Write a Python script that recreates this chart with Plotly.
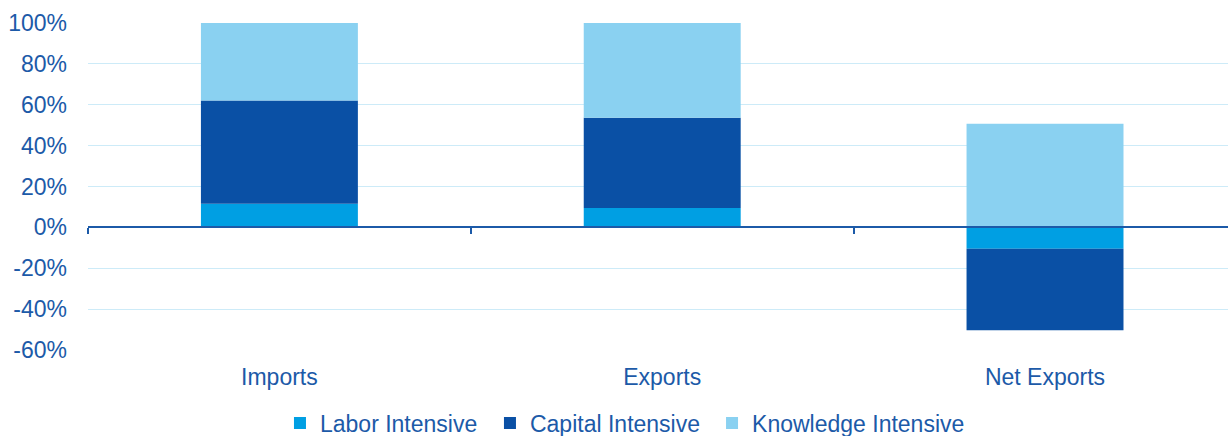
import plotly.graph_objects as go

categories = ["Imports", "Exports", "Net Exports"]
labor = [11.5, 9.5, -10.5]
capital = [50.6, 44.1, -39.8]
knowledge = [37.9, 46.4, 50.7]
series_names = ["Labor Intensive", "Capital Intensive", "Knowledge Intensive"]
y_ticks = [-60, -40, -20, 0, 20, 40, 60, 80, 100]
y_tick_labels = ["-60%", "-40%", "-20%", "0%", "20%", "40%", "60%", "80%", "100%"]

colors = ["#009FE3", "#0A50A5", "#8AD1F1"]
legend_ids = ["legend", "legend2", "legend3"]
legend_x = [0.1684, 0.3526, 0.5474]
text_color = "#1C5AA8"
font_family = "Liberation Sans, Arial, sans-serif"

fig = go.Figure()
for name, vals, col, lg in zip(series_names, [labor, capital, knowledge], colors, legend_ids):
    fig.add_trace(go.Bar(x=categories, y=vals, name=name, marker_color=col,
                         marker_line_width=0, width=0.41, legend=lg))

legend_style = dict(orientation="h", xanchor="left",
                    yref="container", y=0.079, yanchor="top",
                    font=dict(size=23, color=text_color),
                    itemwidth=30, bgcolor="rgba(0,0,0,0)")

fig.update_layout(
    width=1228, height=436,
    barmode="relative",
    plot_bgcolor="white", paper_bgcolor="white",
    margin=dict(l=88, r=0, t=23, b=86, autoexpand=False),
    font=dict(family=font_family, size=23, color=text_color),
    legend=dict(x=legend_x[0], **legend_style),
    legend2=dict(x=legend_x[1], **legend_style),
    legend3=dict(x=legend_x[2], **legend_style),
    showlegend=True,
)
fig.update_xaxes(
    type="category", range=[-0.5, 2.478],
    anchor="free", position=0.375, automargin=False,
    showline=True, linecolor="#1C5AA8", linewidth=2,
    ticks="outside", tickson="boundaries", ticklen=6, tickwidth=2, tickcolor="#1C5AA8",
    ticklabelstandoff=129,
    showgrid=False, tickfont=dict(size=23, color=text_color),
)
fig.update_yaxes(
    range=[-60, 100], tickvals=y_ticks, ticktext=y_tick_labels,
    showgrid=True, gridcolor="#CDEBF8", gridwidth=1,
    zeroline=False, showline=False, automargin=False,
    ticklabelstandoff=20, tickfont=dict(size=23, color=text_color),
)

fig.write_html("out.html")
